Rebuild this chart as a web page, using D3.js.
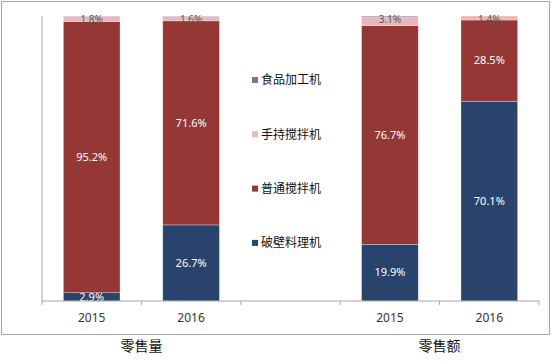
<!DOCTYPE html>
<html>
<head>
<meta charset="utf-8">
<script src="https://cdn.jsdelivr.net/npm/d3@7"></script>
<style>
  body { margin: 0; background: #fff; }
  text { font-family: "Noto Sans", "Noto Sans CJK SC", sans-serif; }
</style>
</head>
<body>
<script>
// categories (slot "gap" holds the legend)
const slots = ["v2015", "v2016", "gap", "a2015", "a2016"];
const yearLabels = ["2015", "2016", "", "2015", "2016"];
const groupLabels = ["零售量", "零售额"];
const series = ["破壁料理机", "普通搅拌机", "手持搅拌机", "食品加工机"];
const colors = ["#29446c", "#953735", "#e6b9b8", "#7e72a4"];
const legendOrder = ["食品加工机", "手持搅拌机", "普通搅拌机", "破壁料理机"];

// values per bar (percent)
const poBi = [2.9, 26.7, 19.9, 70.1];
const puTong = [95.2, 71.6, 76.7, 28.5];
const shouChi = [1.8, 1.6, 3.1, 1.4];
const shiPin = [0.1, 0.1, 0.3, 0.0];
const barSlots = ["v2015", "v2016", "a2015", "a2016"];

const width = 552, height = 363;
const svg = d3.select("body").append("svg").attr("width", width).attr("height", height);

// frame
svg.append("rect").attr("x", 1.5).attr("y", 1.5).attr("width", 548).attr("height", 333)
  .attr("fill", "none").attr("stroke", "#a6a6a6");

const x = d3.scaleBand().domain(slots).range([42, 539]).paddingInner(0.43).paddingOuter(0.215);
const y = d3.scaleLinear().domain([0, 100]).range([301, 16]);

const rows = barSlots.map((s, i) => ({
  slot: s,
  "破壁料理机": poBi[i], "普通搅拌机": puTong[i], "手持搅拌机": shouChi[i], "食品加工机": shiPin[i]
}));
const stacked = d3.stack().keys(series)(rows);

// bars
const layer = svg.selectAll("g.layer").data(stacked).enter().append("g")
  .attr("fill", (d, i) => colors[i]);
layer.selectAll("rect").data(d => d).enter().append("rect")
  .attr("x", d => x(d.data.slot))
  .attr("width", x.bandwidth())
  .attr("y", d => y(d[1]))
  .attr("height", d => Math.max(0, y(d[0]) - y(d[1])))
  .attr("stroke", "#fff").attr("stroke-opacity", 0.5).attr("stroke-width", 0.6);

// labels
stacked.slice(0, 3).forEach((s, si) => {
  svg.append("g").selectAll("text").data(s).enter().append("text")
    .attr("x", d => x(d.data.slot) + x.bandwidth() / 2)
    .attr("y", d => si === 2 ? y(d[1]) + 3 : (y(d[0]) + y(d[1])) / 2)
    .attr("dy", "0.35em")
    .attr("text-anchor", "middle")
    .attr("font-size", si === 2 ? 10 : 11)
    .attr("fill", si === 2 ? "#595959" : "#fff")
    .text(d => (d[1] - d[0]).toFixed(1) + "%");
});

// axes
svg.append("line").attr("x1", 42).attr("x2", 42).attr("y1", 16).attr("y2", 301).attr("stroke", "#a6a6a6");
svg.append("line").attr("x1", 42).attr("x2", 539).attr("y1", 301).attr("y2", 301).attr("stroke", "#a6a6a6");
const step = x.step();
svg.selectAll("line.tick").data(d3.range(slots.length + 1)).enter().append("line")
  .attr("x1", i => 42 + i * step).attr("x2", i => 42 + i * step)
  .attr("y1", 301).attr("y2", 305).attr("stroke", "#a6a6a6");

svg.selectAll("text.year").data(slots).enter().append("text")
  .attr("x", d => x(d) + x.bandwidth() / 2).attr("y", 322)
  .attr("text-anchor", "middle").attr("font-size", 12).attr("fill", "#333")
  .text((d, i) => yearLabels[i]);

svg.selectAll("text.group").data(groupLabels).enter().append("text")
  .attr("x", (d, i) => i === 0 ? 42 + step : 42 + 4 * step)
  .attr("y", 351).attr("text-anchor", "middle")
  .attr("font-family", "Noto Sans CJK SC").attr("font-size", 14).attr("fill", "#111")
  .text(d => d);

// legend
const lg = svg.selectAll("g.legend").data(legendOrder).enter().append("g")
  .attr("transform", (d, i) => `translate(252, ${80 + i * 54.3})`);
lg.append("rect").attr("x", 0).attr("y", -3).attr("width", 6).attr("height", 6)
  .attr("fill", d => colors[series.indexOf(d)]);
lg.append("text").attr("x", 9).attr("dy", "0.35em")
  .attr("font-family", "Noto Sans CJK SC").attr("font-size", 12).attr("fill", "#111")
  .text(d => d);
</script>
</body>
</html>
